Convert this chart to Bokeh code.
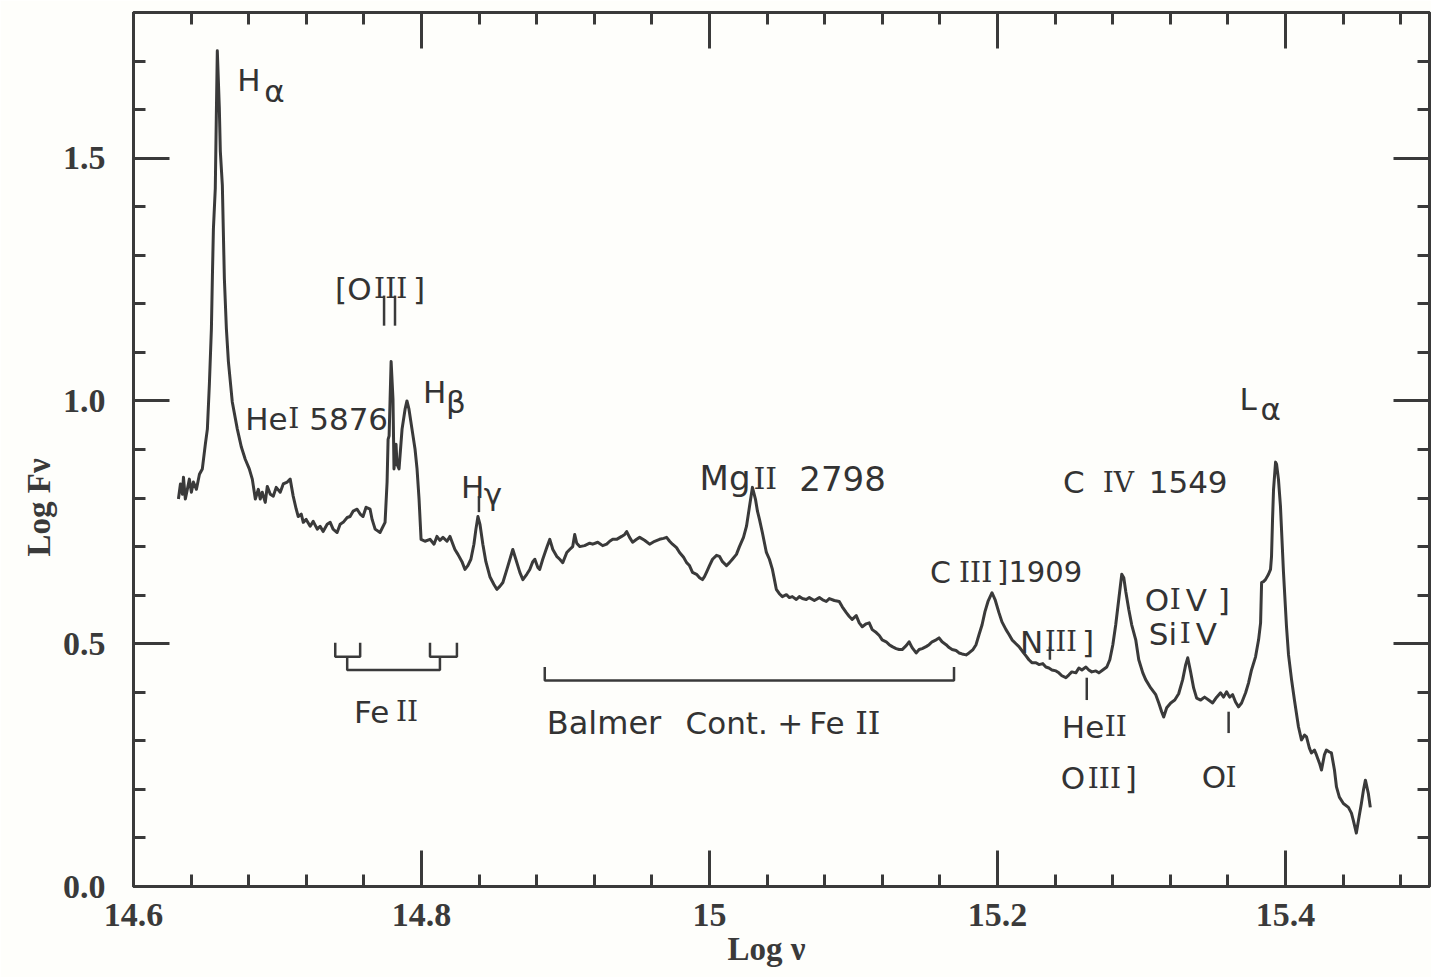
from bokeh.plotting import figure
from bokeh.models import Range1d, LinearAxis, FixedTicker, Title, CustomJSTickFormatter, ColumnDataSource
from bokeh.core.properties import value
from bokeh.embed import file_html
from bokeh.resources import INLINE

# ---------------- data ----------------
log_nu = [
14.6312, 14.6326, 14.6340, 14.6347, 14.6360, 14.6374, 14.6388, 14.6402, 14.6416, 14.6437,
14.6458, 14.6478, 14.6499, 14.6513, 14.6527, 14.6541, 14.6548, 14.6555, 14.6568, 14.6575,
14.6582, 14.6596, 14.6603, 14.6617, 14.6631, 14.6645, 14.6659, 14.6686, 14.6721, 14.6749,
14.6776, 14.6804, 14.6825, 14.6846, 14.6867, 14.6880, 14.6894, 14.6915, 14.6929, 14.6950,
14.6971, 14.6991, 14.7019, 14.7040, 14.7068, 14.7088, 14.7109, 14.7130, 14.7144, 14.7165,
14.7179, 14.7199, 14.7227, 14.7248, 14.7276, 14.7296, 14.7317, 14.7345, 14.7366, 14.7386,
14.7414, 14.7435, 14.7456, 14.7484, 14.7504, 14.7525, 14.7553, 14.7574, 14.7594, 14.7615,
14.7643, 14.7657, 14.7678, 14.7712, 14.7747, 14.7761, 14.7768, 14.7775, 14.7789, 14.7802,
14.7809, 14.7823, 14.7830, 14.7844, 14.7865, 14.7886, 14.7899, 14.7913, 14.7934, 14.7955,
14.7969, 14.7983, 14.7997, 14.8024, 14.8059, 14.8087, 14.8107, 14.8128, 14.8149, 14.8177,
14.8198, 14.8218, 14.8232, 14.8253, 14.8281, 14.8302, 14.8322, 14.8343, 14.8364, 14.8378,
14.8392, 14.8406, 14.8426, 14.8447, 14.8475, 14.8503, 14.8523, 14.8544, 14.8565, 14.8593,
14.8614, 14.8634, 14.8655, 14.8683, 14.8704, 14.8731, 14.8752, 14.8773, 14.8787, 14.8808,
14.8821, 14.8842, 14.8870, 14.8891, 14.8912, 14.8939, 14.8960, 14.8981, 14.9009, 14.9029,
14.9050, 14.9064, 14.9078, 14.9099, 14.9133, 14.9168, 14.9189, 14.9224, 14.9258, 14.9286,
14.9307, 14.9328, 14.9355, 14.9390, 14.9411, 14.9425, 14.9445, 14.9466, 14.9494, 14.9515,
14.9549, 14.9584, 14.9619, 14.9653, 14.9681, 14.9702, 14.9723, 14.9743, 14.9771, 14.9792,
14.9820, 14.9841, 14.9861, 14.9882, 14.9910, 14.9931, 14.9951, 14.9965, 14.9979, 15.0000,
15.0021, 15.0049, 15.0069, 15.0090, 15.0118, 15.0139, 15.0159, 15.0187, 15.0208, 15.0236,
15.0257, 15.0277, 15.0298, 15.0319, 15.0333, 15.0347, 15.0367, 15.0395, 15.0416, 15.0437,
15.0451, 15.0464, 15.0485, 15.0506, 15.0534, 15.0555, 15.0575, 15.0603, 15.0624, 15.0645,
15.0672, 15.0693, 15.0728, 15.0763, 15.0783, 15.0811, 15.0832, 15.0867, 15.0901, 15.0922,
15.0950, 15.0971, 15.0991, 15.1019, 15.1040, 15.1061, 15.1088, 15.1109, 15.1130, 15.1158,
15.1179, 15.1199, 15.1227, 15.1248, 15.1269, 15.1296, 15.1317, 15.1338, 15.1366, 15.1386,
15.1407, 15.1435, 15.1456, 15.1477, 15.1504, 15.1525, 15.1546, 15.1574, 15.1594, 15.1615,
15.1643, 15.1664, 15.1685, 15.1712, 15.1733, 15.1754, 15.1782, 15.1802, 15.1830, 15.1851,
15.1872, 15.1893, 15.1913, 15.1934, 15.1962, 15.1983, 15.2010, 15.2031, 15.2059, 15.2080,
15.2101, 15.2128, 15.2149, 15.2177, 15.2198, 15.2218, 15.2239, 15.2267, 15.2288, 15.2315,
15.2336, 15.2357, 15.2378, 15.2406, 15.2426, 15.2447, 15.2475, 15.2496, 15.2516, 15.2544,
15.2565, 15.2586, 15.2614, 15.2634, 15.2655, 15.2683, 15.2704, 15.2731, 15.2759, 15.2780,
15.2801, 15.2821, 15.2842, 15.2863, 15.2877, 15.2891, 15.2912, 15.2932, 15.2960, 15.2981,
15.3009, 15.3029, 15.3064, 15.3099, 15.3120, 15.3140, 15.3154, 15.3175, 15.3203, 15.3231,
15.3258, 15.3286, 15.3307, 15.3321, 15.3341, 15.3362, 15.3383, 15.3411, 15.3438, 15.3466,
15.3494, 15.3522, 15.3549, 15.3570, 15.3591, 15.3612, 15.3633, 15.3653, 15.3674, 15.3695,
15.3723, 15.3743, 15.3764, 15.3792, 15.3813, 15.3827, 15.3834, 15.3847, 15.3861, 15.3882,
15.3896, 15.3903, 15.3910, 15.3917, 15.3931, 15.3938, 15.3951, 15.3965, 15.3986, 15.4007,
15.4021, 15.4042, 15.4062, 15.4090, 15.4111, 15.4132, 15.4146, 15.4166, 15.4180, 15.4201,
15.4215, 15.4236, 15.4250, 15.4270, 15.4284, 15.4305, 15.4319, 15.4340, 15.4354, 15.4374,
15.4402, 15.4437, 15.4458, 15.4471, 15.4492, 15.4513, 15.4527, 15.4541, 15.4555, 15.4575,
15.4589]

log_fnu = [
0.798, 0.829, 0.808, 0.843, 0.798, 0.818, 0.839, 0.812, 0.833, 0.818,
0.849, 0.860, 0.911, 0.942, 1.035, 1.149, 1.258, 1.355, 1.438, 1.583,
1.721, 1.603, 1.514, 1.444, 1.252, 1.149, 1.081, 0.998, 0.942, 0.905,
0.880, 0.860, 0.839, 0.798, 0.818, 0.798, 0.812, 0.791, 0.824, 0.808,
0.804, 0.822, 0.812, 0.829, 0.833, 0.839, 0.804, 0.777, 0.762, 0.767,
0.750, 0.756, 0.742, 0.752, 0.736, 0.742, 0.731, 0.746, 0.750, 0.736,
0.729, 0.746, 0.750, 0.760, 0.762, 0.773, 0.777, 0.767, 0.762, 0.781,
0.777, 0.756, 0.736, 0.729, 0.750, 0.833, 0.921, 0.928, 1.081, 1.004,
0.860, 0.911, 0.870, 0.860, 0.942, 0.983, 1.000, 0.983, 0.942, 0.901,
0.860, 0.798, 0.715, 0.711, 0.715, 0.705, 0.721, 0.713, 0.719, 0.711,
0.721, 0.705, 0.694, 0.684, 0.669, 0.653, 0.661, 0.674, 0.705, 0.736,
0.762, 0.746, 0.705, 0.669, 0.638, 0.622, 0.612, 0.618, 0.626, 0.653,
0.674, 0.694, 0.674, 0.647, 0.632, 0.643, 0.653, 0.669, 0.674, 0.657,
0.653, 0.674, 0.698, 0.715, 0.694, 0.680, 0.674, 0.667, 0.688, 0.694,
0.700, 0.725, 0.707, 0.700, 0.702, 0.707, 0.705, 0.709, 0.702, 0.705,
0.711, 0.715, 0.715, 0.721, 0.725, 0.731, 0.719, 0.709, 0.715, 0.719,
0.713, 0.705, 0.711, 0.715, 0.717, 0.719, 0.711, 0.705, 0.698, 0.688,
0.678, 0.667, 0.661, 0.647, 0.643, 0.636, 0.632, 0.638, 0.647, 0.661,
0.674, 0.682, 0.680, 0.669, 0.661, 0.667, 0.674, 0.684, 0.700, 0.719,
0.742, 0.781, 0.822, 0.798, 0.773, 0.756, 0.729, 0.688, 0.674, 0.653,
0.632, 0.612, 0.603, 0.597, 0.601, 0.595, 0.597, 0.591, 0.597, 0.593,
0.591, 0.595, 0.589, 0.595, 0.591, 0.587, 0.593, 0.589, 0.587, 0.576,
0.564, 0.556, 0.550, 0.558, 0.543, 0.535, 0.541, 0.543, 0.529, 0.523,
0.517, 0.508, 0.504, 0.498, 0.494, 0.490, 0.488, 0.488, 0.496, 0.504,
0.492, 0.481, 0.488, 0.490, 0.494, 0.498, 0.504, 0.508, 0.512, 0.504,
0.498, 0.492, 0.488, 0.486, 0.481, 0.479, 0.477, 0.481, 0.488, 0.498,
0.519, 0.539, 0.566, 0.587, 0.605, 0.591, 0.564, 0.545, 0.529, 0.519,
0.508, 0.500, 0.494, 0.483, 0.475, 0.467, 0.461, 0.461, 0.457, 0.459,
0.452, 0.450, 0.446, 0.444, 0.440, 0.434, 0.430, 0.436, 0.442, 0.440,
0.450, 0.446, 0.452, 0.446, 0.442, 0.444, 0.440, 0.446, 0.452, 0.467,
0.498, 0.539, 0.591, 0.643, 0.636, 0.607, 0.570, 0.539, 0.508, 0.467,
0.440, 0.426, 0.409, 0.395, 0.378, 0.360, 0.349, 0.368, 0.378, 0.384,
0.397, 0.426, 0.457, 0.471, 0.442, 0.409, 0.388, 0.384, 0.390, 0.384,
0.378, 0.390, 0.399, 0.390, 0.401, 0.390, 0.395, 0.380, 0.370, 0.378,
0.399, 0.419, 0.446, 0.473, 0.508, 0.543, 0.626, 0.628, 0.632, 0.643,
0.653, 0.680, 0.756, 0.818, 0.874, 0.870, 0.839, 0.783, 0.647, 0.535,
0.477, 0.426, 0.384, 0.329, 0.302, 0.312, 0.308, 0.285, 0.275, 0.281,
0.271, 0.254, 0.240, 0.271, 0.281, 0.277, 0.275, 0.240, 0.205, 0.184,
0.171, 0.163, 0.151, 0.136, 0.110, 0.147, 0.171, 0.198, 0.219, 0.192,
0.163]

# axis ticks and labels
x_major = [14.6, 14.8, 15.0, 15.2, 15.4]
x_major_labels = ["14.6", "14.8", "15", "15.2", "15.4"]
x_minor = [14.64, 14.68, 14.72, 14.76, 14.84, 14.88, 14.92, 14.96,
           15.04, 15.08, 15.12, 15.16, 15.24, 15.28, 15.32, 15.36, 15.44, 15.48]
y_major = [0.0, 0.5, 1.0, 1.5]
y_major_labels = ["0.0", "0.5", "1.0", "1.5"]
y_minor = [0.1, 0.2, 0.3, 0.4, 0.6, 0.7, 0.8, 0.9, 1.1, 1.2, 1.3, 1.4, 1.6, 1.7]
x_title = "Log ν"
y_title = "Log Fν"

# line identifications, lettered piece by piece: roman numerals are drawn
# with serifs as in the original (text, left x, baseline y, font, size px)
S = "DejaVu Sans"
R = "DejaVu Serif"
ann_text = ["H", "α",
            "[O", "III", "]",
            "He", "I", "5876",
            "H", "β", "H", "γ",
            "Mg", "II", "2798",
            "C", "III", "]1909",
            "C", "IV", "1549",
            "L", "α",
            "O", "I", "V", "]",
            "Si", "I", "V",
            "N", "III", "]",
            "He", "II",
            "O", "III", "]",
            "O", "I",
            "Fe", "II",
            "Balmer", "Cont.", "+", "Fe", "II"]
ann_x = [14.6721, 14.6908,
         14.7400, 14.7671, 14.7941,
         14.6776, 14.7075, 14.7220,
         14.8010, 14.8170, 14.8274, 14.8433,
         14.9931, 15.0305, 15.0624,
         15.1532, 15.1733, 15.1997,
         15.2454, 15.2731, 15.3050,
         15.3681, 15.3827,
         15.3023, 15.3196, 15.3307, 15.3529,
         15.3050, 15.3265, 15.3376,
         15.2156, 15.2329, 15.2586,
         15.2447, 15.2745,
         15.2440, 15.2627, 15.2884,
         15.3418, 15.3584,
         14.7532, 14.7823,
         14.8870, 14.9834, 15.0471, 15.0693, 15.1012]
ann_y = [1.661, 1.638,
         1.231, 1.231, 1.231,
         0.963, 0.963, 0.963,
         1.019, 0.998, 0.822, 0.808,
         0.841, 0.841, 0.841,
         0.647, 0.647, 0.647,
         0.833, 0.833, 0.833,
         1.004, 0.983,
         0.591, 0.591, 0.591, 0.591,
         0.521, 0.521, 0.521,
         0.504, 0.504, 0.504,
         0.329, 0.329,
         0.223, 0.223, 0.223,
         0.225, 0.225,
         0.360, 0.360,
         0.337, 0.337, 0.337, 0.337, 0.337]
ann_font = [S, S,
            S, R, S,
            S, R, S,
            S, S, S, S,
            S, R, S,
            S, R, S,
            S, R, S,
            S, S,
            S, R, S, S,
            S, R, S,
            S, R, S,
            S, R,
            S, R, S,
            S, R,
            S, R,
            S, S, S, S, R]
ann_size = ["31px", "31px",
            "31px", "28px", "31px",
            "31px", "28px", "31px",
            "31px", "31px", "31px", "31px",
            "34px", "30px", "34px",
            "30px", "28px", "29px",
            "31px", "28px", "31px",
            "31px", "31px",
            "31px", "28px", "31px", "31px",
            "31px", "28px", "31px",
            "31px", "27px", "31px",
            "31px", "28px",
            "31px", "28px", "31px",
            "31px", "28px",
            "31px", "28px",
            "32px", "31px", "31px", "31px", "32px"]

# short vertical line markers: [OIII] pair, Hgamma, NIII], HeII/OIII], OI
mark_x = [14.7740, 14.7816, 14.8399, 15.2364, 15.2620, 15.3605]
mark_y0 = [1.217, 1.217, 0.804, 0.494, 0.430, 0.360]
mark_y1 = [1.155, 1.155, 0.771, 0.467, 0.384, 0.316]

# brackets (Fe II blends and Balmer continuum + Fe II)
bracket_xs = [[14.7401, 14.7401, 14.7574, 14.7574],
              [14.7484, 14.7484, 14.8128, 14.8128],
              [14.8059, 14.8059, 14.8246, 14.8246],
              [14.8856, 14.8856, 15.1698, 15.1698]]
bracket_ys = [[0.502, 0.473, 0.473, 0.502],
              [0.473, 0.446, 0.446, 0.473],
              [0.502, 0.473, 0.473, 0.502],
              [0.452, 0.424, 0.424, 0.452]]

# ---------------- figure ----------------
INK = "#3a3a3a"
PAPER = "#fefefb"
SERIF = "Liberation Serif"

p = figure(width=1431, height=977, x_range=Range1d(14.6, 15.5), y_range=Range1d(0.0, 1.8),
           output_backend="svg", toolbar_location=None,
           min_border_left=133, min_border_right=2, min_border_top=12, min_border_bottom=91,
           background_fill_color=PAPER, border_fill_color=PAPER)
p.grid.visible = False
p.outline_line_color = INK
p.outline_line_width = 3

xt = FixedTicker(ticks=x_major, minor_ticks=x_minor)
yt = FixedTicker(ticks=y_major, minor_ticks=y_minor)


def style_axis(ax, ticker):
    ax.ticker = ticker
    ax.axis_line_color = INK
    ax.axis_line_width = 3
    ax.major_tick_line_color = INK
    ax.major_tick_line_width = 3
    ax.minor_tick_line_color = INK
    ax.minor_tick_line_width = 3
    ax.major_tick_in = 36
    ax.major_tick_out = 0
    ax.minor_tick_in = 12
    ax.minor_tick_out = 0
    ax.major_label_text_font = SERIF
    ax.major_label_text_font_style = "bold"
    ax.major_label_text_font_size = "34px"
    ax.major_label_text_color = INK


xa = p.xaxis[0]
style_axis(xa, xt)
xa.major_label_overrides = dict(zip(x_major, x_major_labels))
xa.major_label_standoff = 17

ya = p.yaxis[0]
style_axis(ya, yt)
ya.major_label_overrides = dict(zip(y_major, y_major_labels))
ya.major_label_standoff = 28
ya.major_label_orientation = "horizontal"

blank = CustomJSTickFormatter(code="return ''")
top = LinearAxis()
style_axis(top, xt)
top.formatter = blank
top.major_label_text_font_size = "1px"
top.major_label_standoff = 0
p.add_layout(top, "above")

right = LinearAxis()
style_axis(right, yt)
right.formatter = blank
right.major_label_text_font_size = "1px"
right.major_label_standoff = 0
p.add_layout(right, "right")

# axis titles (as side titles so they can sit off-centre like the original)
p.add_layout(Title(text=y_title, align="left", offset=330, vertical_align="middle",
                   text_font=SERIF, text_font_style="bold", text_font_size="33px",
                   text_color=INK, standoff=4), "left")
p.add_layout(Title(text=x_title, align="left", offset=594, vertical_align="bottom",
                   text_font=SERIF, text_font_style="bold", text_font_size="33px",
                   text_color=INK, standoff=0), "below")

# spectrum
p.line(log_nu, log_fnu, line_width=3, line_color=INK, line_join="round")

# markers and brackets
p.segment(x0=mark_x, y0=mark_y0, x1=mark_x, y1=mark_y1, line_width=2.5, line_color=INK)
p.multi_line(xs=bracket_xs, ys=bracket_ys, line_width=2.5, line_color=INK)

# line identifications
src = ColumnDataSource(dict(x=ann_x, y=ann_y, t=ann_text, f=ann_font, s=ann_size))
p.text(x="x", y="y", text="t", source=src, text_font="f", text_font_size="s",
       text_color="#333333", text_align="left", text_baseline="alphabetic")

open("out.html", "w").write(file_html(p, INLINE))
